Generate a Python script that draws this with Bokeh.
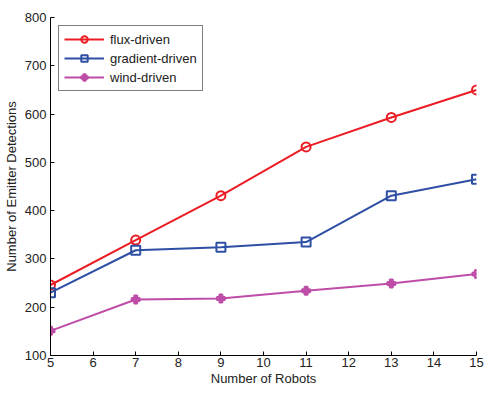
from bokeh.plotting import figure
from bokeh.models import Legend, LegendItem, FixedTicker
from bokeh.embed import file_html
from bokeh.resources import INLINE

robots = [5, 7, 9, 11, 13, 15]
flux = [246, 339, 431, 532, 593, 650]
gradient = [230, 318, 324, 335, 431, 465]
wind = [151, 216, 218, 234, 249, 269]

x_ticks = list(range(5, 16))
y_ticks = list(range(100, 900, 100))

RED = "#EC1C24"
BLUE = "#2E4FA3"
MAG = "#BE4DA8"
FONT = "Liberation Sans"
TXT = "#222222"

p = figure(width=484, height=388, output_backend="svg", toolbar_location=None,
           x_range=(5, 15), y_range=(100, 800),
           min_border_left=49, min_border_right=8, min_border_top=17, min_border_bottom=33)
p.outline_line_color = None
p.xgrid.visible = False
p.ygrid.visible = False

for ax in (p.xaxis[0], p.yaxis[0]):
    ax.major_tick_in = 4
    ax.major_tick_out = 0
    ax.minor_tick_line_color = None
    ax.axis_line_color = "black"
    ax.major_tick_line_color = "black"
    ax.major_label_text_font = FONT
    ax.major_label_text_font_size = "13px"
    ax.major_label_text_color = TXT
    ax.axis_label_text_font = FONT
    ax.axis_label_text_font_size = "13px"
    ax.axis_label_text_font_style = "normal"
    ax.axis_label_text_color = TXT

p.xaxis.ticker = FixedTicker(ticks=x_ticks)
p.yaxis.ticker = FixedTicker(ticks=y_ticks)
p.xaxis.axis_label = "Number of Robots"
p.yaxis.axis_label = "Number of Emitter Detections"
p.xaxis.major_label_standoff = 2
p.xaxis.axis_label_standoff = 1
p.yaxis.major_label_standoff = 4
p.yaxis.axis_label_standoff = 3

l1 = p.line(robots, flux, line_color=RED, line_width=2)
m1 = p.scatter(robots, flux, marker="circle", size=9, line_color=RED, line_width=2, fill_color=None)
l2 = p.line(robots, gradient, line_color=BLUE, line_width=2)
m2 = p.scatter(robots, gradient, marker="square", size=9, line_color=BLUE, line_width=2, fill_color=None)
l3 = p.line(robots, wind, line_color=MAG, line_width=2)
m3 = p.scatter(robots, wind, marker="plus", size=8, line_color=MAG, fill_color=MAG, line_width=2)

legend = Legend(items=[
    LegendItem(label="flux-driven", renderers=[l1, m1]),
    LegendItem(label="gradient-driven", renderers=[l2, m2]),
    LegendItem(label="wind-driven", renderers=[l3, m3]),
], location="top_left")
legend.margin = 8
legend.padding = 5
legend.spacing = 3
legend.glyph_width = 40
legend.glyph_height = 16
legend.label_standoff = 6
legend.label_text_font = FONT
legend.label_text_font_size = "13px"
legend.label_text_color = TXT
legend.border_line_color = "black"
legend.border_line_width = 1
legend.background_fill_alpha = 1.0
p.add_layout(legend)

open("out.html", "w").write(file_html(p, INLINE))
